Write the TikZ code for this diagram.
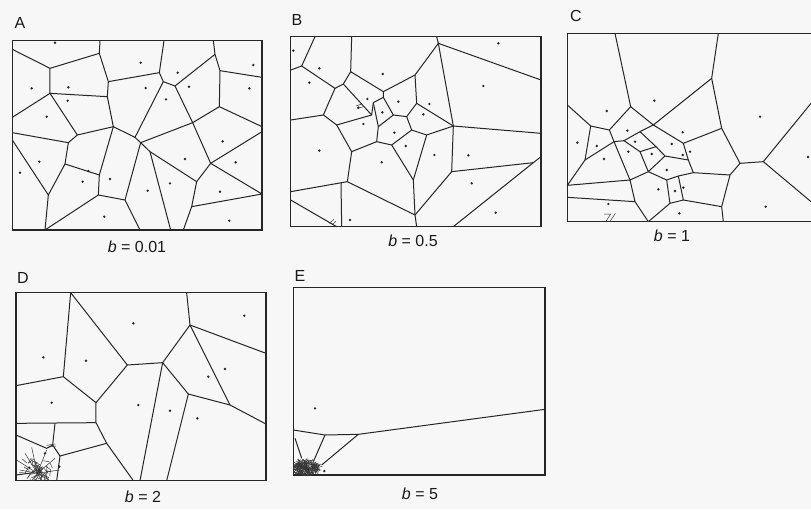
\documentclass[tikz,border=0pt]{standalone}
\usepackage{fontspec}
\setmainfont{Liberation Sans}

\begin{document}
\begin{tikzpicture}[
    x=1pt, y=-1pt,
    edge/.style={line width=1pt, draw=black!85, line join=round},
    fine/.style={line width=0.5pt, draw=black!80},
    frame/.style={line width=1.3pt, draw=black!85},
    site/.style={fill=black!85},
    panel/.style={font=\fontsize{16}{19}\selectfont, text=black!90},
    caption/.style={font=\fontsize{16}{19}\selectfont, text=black!90}
  ]
  \useasboundingbox[fill=black!3] (0,0) rectangle (811,509);

  % panel labels and captions
  \node[panel] (labA) at (20,23) {A};
  \node[panel] (labB) at (297,20) {B};
  \node[panel] (labC) at (576,16) {C};
  \node[panel] (labD) at (23,278) {D};
  \node[panel] (labE) at (300,276) {E};
  \node[caption] (capA) at (137,247) {\textit{b} = 0.01};
  \node[caption] (capB) at (413,241) {\textit{b} = 0.5};
  \node[caption] (capC) at (672,236) {\textit{b} = 1};
  \node[caption] (capD) at (143,497) {\textit{b} = 2};
  \node[caption] (capE) at (420,494) {\textit{b} = 5};

  % A: b = 0.01
  \begin{scope}[shift={(0,0)}, scale=1/3]
    \draw[frame] (37,122) rectangle (786,690);
    \draw[edge] (37,148) -- (150,205) -- (298,160) -- (300,122);
    \draw[edge] (150,205) -- (150,280) -- (322,290);
    \draw[edge] (37,352) -- (150,280) -- (232,405) -- (340,380) -- (405,412)
      -- (490,245) -- (478,218) -- (492,122);
    \draw[edge] (298,160) -- (325,245) -- (322,290) -- (340,380) -- (298,525)
      -- (295,585) -- (375,600) -- (420,690);
    \draw[edge] (325,245) -- (478,218);
    \draw[edge] (490,245) -- (525,258) -- (645,163) -- (640,122);
    \draw[edge] (645,163) -- (660,212) -- (786,232);
    \draw[edge] (660,212) -- (658,320) -- (786,380);
    \draw[edge] (658,320) -- (578,368) -- (525,258);
    \draw[edge] (405,412) -- (422,428) -- (578,368) -- (632,490) -- (786,395);
    \draw[edge] (632,490) -- (786,582) -- (575,620) -- (590,545) -- (632,490);
    \draw[edge] (422,428) -- (450,455) -- (590,545);
    \draw[edge] (450,455) -- (512,690);
    \draw[edge] (575,620) -- (550,690);
    \draw[edge] (422,428) -- (375,600);
    \draw[edge] (295,585) -- (135,690) -- (145,585) -- (195,492) -- (298,525);
    \draw[edge] (37,420) -- (145,585);
    \draw[edge] (195,492) -- (205,428) -- (232,405);
    \draw[edge] (37,398) -- (205,428);
    \foreach \p in {(165,128),(422,188),(533,218),(760,195),(95,265),(205,262),
        (437,264),(567,260),(748,265),(203,302),(498,298),(140,350),(668,424),
        (118,485),(555,477),(707,487),(60,518),(265,513),(248,545),(330,537),
        (510,550),(443,572),(660,575),(313,650),(688,662)}
      \fill[site] \p circle (4);
  \end{scope}

  % B: b = 0.5
  \begin{scope}[shift={(270,0)}, scale=1/3]
    \draw[frame] (62,110) rectangle (813,680);
    \draw[edge] (135,110) -- (95,198) -- (62,210);
    \draw[edge] (95,198) -- (195,265) -- (220,252) -- (242,215) -- (245,110);
    \draw[edge] (242,215) -- (340,275) -- (435,225) -- (505,130) -- (500,110);
    \draw[edge] (505,130) -- (813,240);
    \draw[edge] (505,130) -- (550,378) -- (813,400);
    \draw[edge] (435,225) -- (440,310) -- (550,378);
    \draw[edge] (220,252) -- (305,345) -- (310,308) -- (340,292) -- (340,275);
    \draw[edge] (340,292) -- (370,345) -- (410,350) -- (440,310);
    \draw[edge] (410,350) -- (425,390) -- (470,405) -- (550,378);
    \draw[edge] (310,308) -- (325,380) -- (370,345);
    \draw[edge] (325,380) -- (320,425) -- (365,435) -- (425,390);
    \draw[edge] (365,435) -- (430,540) -- (470,405);
    \draw[edge] (430,540) -- (435,645) -- (440,680);
    \draw[edge] (305,345) -- (200,375) -- (160,345) -- (195,265);
    \draw[edge] (160,345) -- (62,360);
    \draw[edge] (200,375) -- (245,455) -- (320,425);
    \draw[edge] (245,455) -- (232,545) -- (435,645);
    \draw[edge] (232,545) -- (62,575);
    \draw[edge] (213,548) -- (215,680);
    \draw[edge] (62,600) -- (200,680);
    \draw[edge] (550,378) -- (545,515) -- (435,645);
    \draw[edge] (545,515) -- (790,488) -- (813,470);
    \draw[edge] (790,488) -- (550,680);
    \draw[fine] (258,318) -- (276,312) (262,326) -- (280,320);
    \draw[fine] (178,670) -- (192,658) (186,674) -- (198,664);
    \foreach \p in {(70,152),(148,205),(118,248),(338,222),(292,297),(385,305),
        (337,337),(280,372),(478,312),(460,343),(373,398),(407,438),(493,465),
        (595,466),(685,130),(640,258),(148,452),(335,487),(605,550),(677,638),
        (240,660),(265,323)}
      \fill[site] \p circle (4);
  \end{scope}

  % C: b = 1
  \begin{scope}[shift={(540,0)}, scale=1/3]
    \draw[frame] (813,100) -- (82,100) -- (82,665) -- (813,665);
    \draw[edge] (225,100) -- (272,320) -- (340,375) -- (515,235) -- (535,100);
    \draw[edge] (515,235) -- (545,385) -- (600,490) -- (670,485) -- (813,310);
    \draw[edge] (670,485) -- (813,605);
    \draw[edge] (600,490) -- (570,525) -- (545,620) -- (550,665);
    \draw[edge] (545,385) -- (430,430) -- (340,375);
    \draw[edge] (82,315) -- (152,378) -- (208,390) -- (272,320);
    \draw[edge] (152,378) -- (135,480) -- (82,556) -- (270,540);
    \draw[edge] (135,480) -- (222,425) -- (208,390);
    \draw[edge] (222,425) -- (252,422) -- (300,395) -- (340,375);
    \draw[edge] (252,422) -- (300,455) -- (348,440) -- (300,395);
    \draw[edge] (348,440) -- (375,468) -- (445,480) -- (430,430);
    \draw[edge] (300,455) -- (325,515) -- (375,468);
    \draw[edge] (222,425) -- (270,540) -- (325,515);
    \draw[edge] (270,540) -- (285,605) -- (325,665);
    \draw[edge] (285,605) -- (82,592);
    \draw[edge] (325,515) -- (380,540) -- (415,528) -- (460,518) -- (445,480);
    \draw[edge] (460,518) -- (570,525);
    \draw[edge] (380,540) -- (390,610) -- (430,600) -- (415,528);
    \draw[edge] (390,610) -- (325,665);
    \draw[edge] (430,600) -- (545,620);
    \draw[fine] (192,642) -- (212,642) -- (198,664) (210,664) -- (226,640);
    \foreach \p in {(200,333),(343,302),(262,392),(285,425),(265,455),(335,462),
        (395,432),(428,397),(428,465),(450,455),(380,510),(355,568),(405,573),
        (430,563),(418,640),(205,612),(112,428),(170,438),(192,477),(660,350),
        (677,620),(804,471)}
      \fill[site] \p circle (4);
  \end{scope}

  % D: b = 2
  \begin{scope}[shift={(0,240)}, scale=1/3]
    \draw[frame] (48,158) rectangle (798,722);
    \draw[edge] (212,158) -- (190,410) -- (48,437);
    \draw[edge] (212,158) -- (382,375) -- (488,368) -- (570,255) -- (560,158);
    \draw[edge] (570,255) -- (798,340);
    \draw[edge] (570,255) -- (690,495) -- (798,552);
    \draw[edge] (690,495) -- (565,462) -- (488,368) -- (420,722);
    \draw[edge] (565,462) -- (500,722);
    \draw[edge] (382,375) -- (288,488) -- (190,410);
    \draw[edge] (288,488) -- (288,548) -- (48,550);
    \draw[edge] (288,548) -- (320,610) -- (400,722);
    \draw[edge] (320,610) -- (180,648) -- (170,722);
    \draw[edge] (165,550) -- (158,615) -- (180,648);
    \draw[edge] (48,585) -- (140,625) -- (158,615);
    \draw[edge] (48,705) -- (100,698);
    \begin{scope}
      \clip (48,560) rectangle (190,722);
      \foreach \q in {(75,640),(95,622),(140,630),(165,655),(178,690),
          (150,722),(95,722),(60,690),(50,660),(125,722)}
        \draw[fine] (112,700) -- \q;
      \pgfmathsetseed{7}
      \foreach \i in {1,...,60}{
        \pgfmathsetmacro\ang{360*rnd}
        \pgfmathsetmacro\rad{rnd}
        \pgfmathsetmacro\xa{112+50*\rad*cos(\ang)}
        \pgfmathsetmacro\ya{692+32*\rad*sin(\ang)}
        \pgfmathsetmacro\dang{360*rnd}
        \pgfmathsetmacro\xb{\xa+18*cos(\dang)}
        \pgfmathsetmacro\yb{\ya+18*sin(\dang)}
        \draw[fine] (\xa,\ya) -- (\xb,\yb);
      }
    \end{scope}
    \draw[fine] (140,616) -- (166,612) (142,622) -- (168,618);
    \foreach \p in {(400,250),(733,227),(130,352),(258,362),(675,387),(625,410),
        (155,488),(415,495),(510,512),(592,535),(135,640),(88,683),(178,680)}
      \fill[site] \p circle (4);
  \end{scope}

  % E: b = 5
  \begin{scope}[shift={(270,240)}, scale=1/3]
    \draw[frame] (70,142) rectangle (825,705);
    \draw[edge] (70,570) -- (165,585) -- (265,583) -- (825,508);
    \draw[edge] (165,585) -- (130,665);
    \draw[edge] (265,583) -- (155,675);
    \draw[edge] (75,595) -- (95,655);
    \begin{scope}
      \clip (70,630) rectangle (170,705);
      \fill[black!35] (108,684) ellipse (34 and 20);
      \pgfmathsetseed{11}
      \foreach \i in {1,...,260}{
        \pgfmathsetmacro\ang{360*rnd}
        \pgfmathsetmacro\rad{sqrt(rnd)}
        \pgfmathsetmacro\xa{108+40*\rad*cos(\ang)}
        \pgfmathsetmacro\ya{684+24*\rad*sin(\ang)}
        \pgfmathsetmacro\dang{360*rnd}
        \pgfmathsetmacro\xb{\xa+10*cos(\dang)}
        \pgfmathsetmacro\yb{\ya+10*sin(\dang)}
        \draw[fine] (\xa,\ya) -- (\xb,\yb);
      }
    \end{scope}
    \foreach \p in {(135,505),(163,693)}
      \fill[site] \p circle (4);
  \end{scope}
\end{tikzpicture}
\end{document}
